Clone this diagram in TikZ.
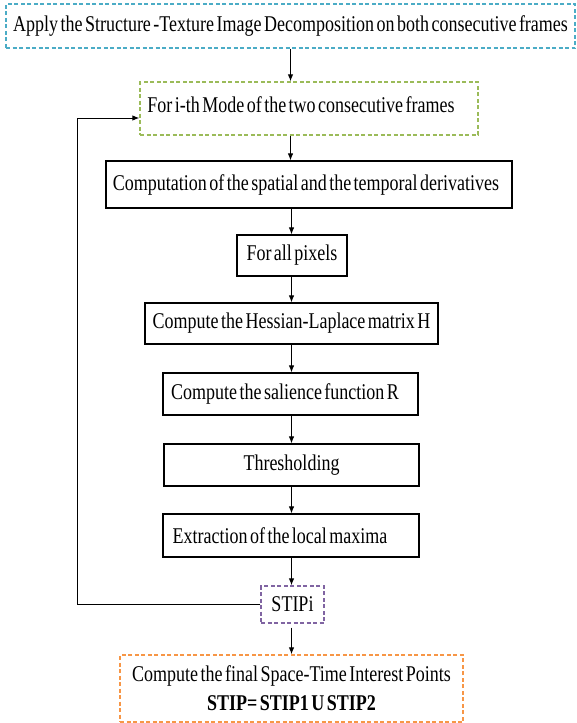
\documentclass[tikz,border=0pt]{standalone}
\usepackage{fontspec}
\setmainfont[FakeStretch=0.8,WordSpace=0.55]{Liberation Serif}
\usetikzlibrary{arrows.meta}
\definecolor{aqua}{HTML}{4BACC6}
\definecolor{olivegreen}{HTML}{9BBB59}
\definecolor{violetc}{HTML}{8064A2}
\definecolor{orangec}{HTML}{F79646}
\newcommand{\textleftby}[2]{#2\hspace*{#1}}
\tikzset{
  every node/.style={font=\fontsize{22.5}{29}\selectfont},
  cbox/.style={draw=black, line width=1.2pt, minimum width=#1, minimum height=42pt, inner sep=0pt, align=center},
  dbox/.style={draw=#1, line width=1.3pt, dash pattern=on 4pt off 2.5pt},
  arr/.style={-{Latex[length=7pt,width=5.5pt]}, line width=1pt, black},
}
\begin{document}
\begin{tikzpicture}[x=1pt,y=-1pt]
\useasboundingbox (0,0) rectangle (576,723);
\node[cbox=569pt, minimum height=44pt, dbox=aqua] (b1) at (290.5,26) {Apply the Structure -Texture Image Decomposition on both consecutive frames};
\node[cbox=338pt, minimum height=53pt, dbox=olivegreen] (b2) at (309,108.5) {\raisebox{8pt}{\textleftby{16pt}{For i-th Mode of the two consecutive frames}}};
\node[cbox=406pt, minimum height=47pt] (b3) at (309,184.5) {\textleftby{6pt}{Computation of the spatial and the temporal derivatives}};
\node[cbox=110pt, minimum height=41pt] (b4) at (292,255.5) {For all pixels};
\node[cbox=293pt, minimum height=41pt] (b5) at (291.5,323.5) {Compute the Hessian-Laplace matrix H};
\node[cbox=255pt] (b6) at (290.5,394) {\textleftby{11pt}{Compute the salience function R}};
\node[cbox=255pt] (b7) at (291.5,465) {Thresholding};
\node[cbox=256pt, minimum height=43pt] (b8) at (291,535.5) {\textleftby{22pt}{Extraction of the local maxima}};
\node[cbox=63pt, minimum height=37pt, dbox=violetc] (b9) at (292.5,604.5) {STIPi};
\node[cbox=343pt, minimum height=67pt, dbox=orangec] (b10) at (291.5,688.5) {Compute the final Space-Time Interest Points\\\textbf{STIP= STIP1 U STIP2}};
\coordinate (fb) at (77,118);
\draw[arr] (b1.south) -- (b1.south |- b2.north);
\draw[arr] (b2.south -| b1.south) -- (b3.north -| b1.south);
\draw[arr] (b3.south -| b5.north) -- (b5.north |- b4.north);
\draw[arr] (b4.south -| b5.north) -- (b5.north);
\draw[arr] (b5.south) -- (b5.south |- b6.north);
\draw[arr] (b6.south -| b5.south) -- (b5.south |- b7.north);
\draw[arr] (b7.south -| b5.south) -- (b5.south |- b8.north);
\draw[arr] (b8.south -| b5.south) -- (b5.south |- b9.north);
\draw[arr, shorten <=4pt] (b9.south -| b5.south) -- (b5.south |- b10.north);
\draw[arr] (b9.west) -| (fb) -- (fb -| b2.west);
\end{tikzpicture}
\end{document}
